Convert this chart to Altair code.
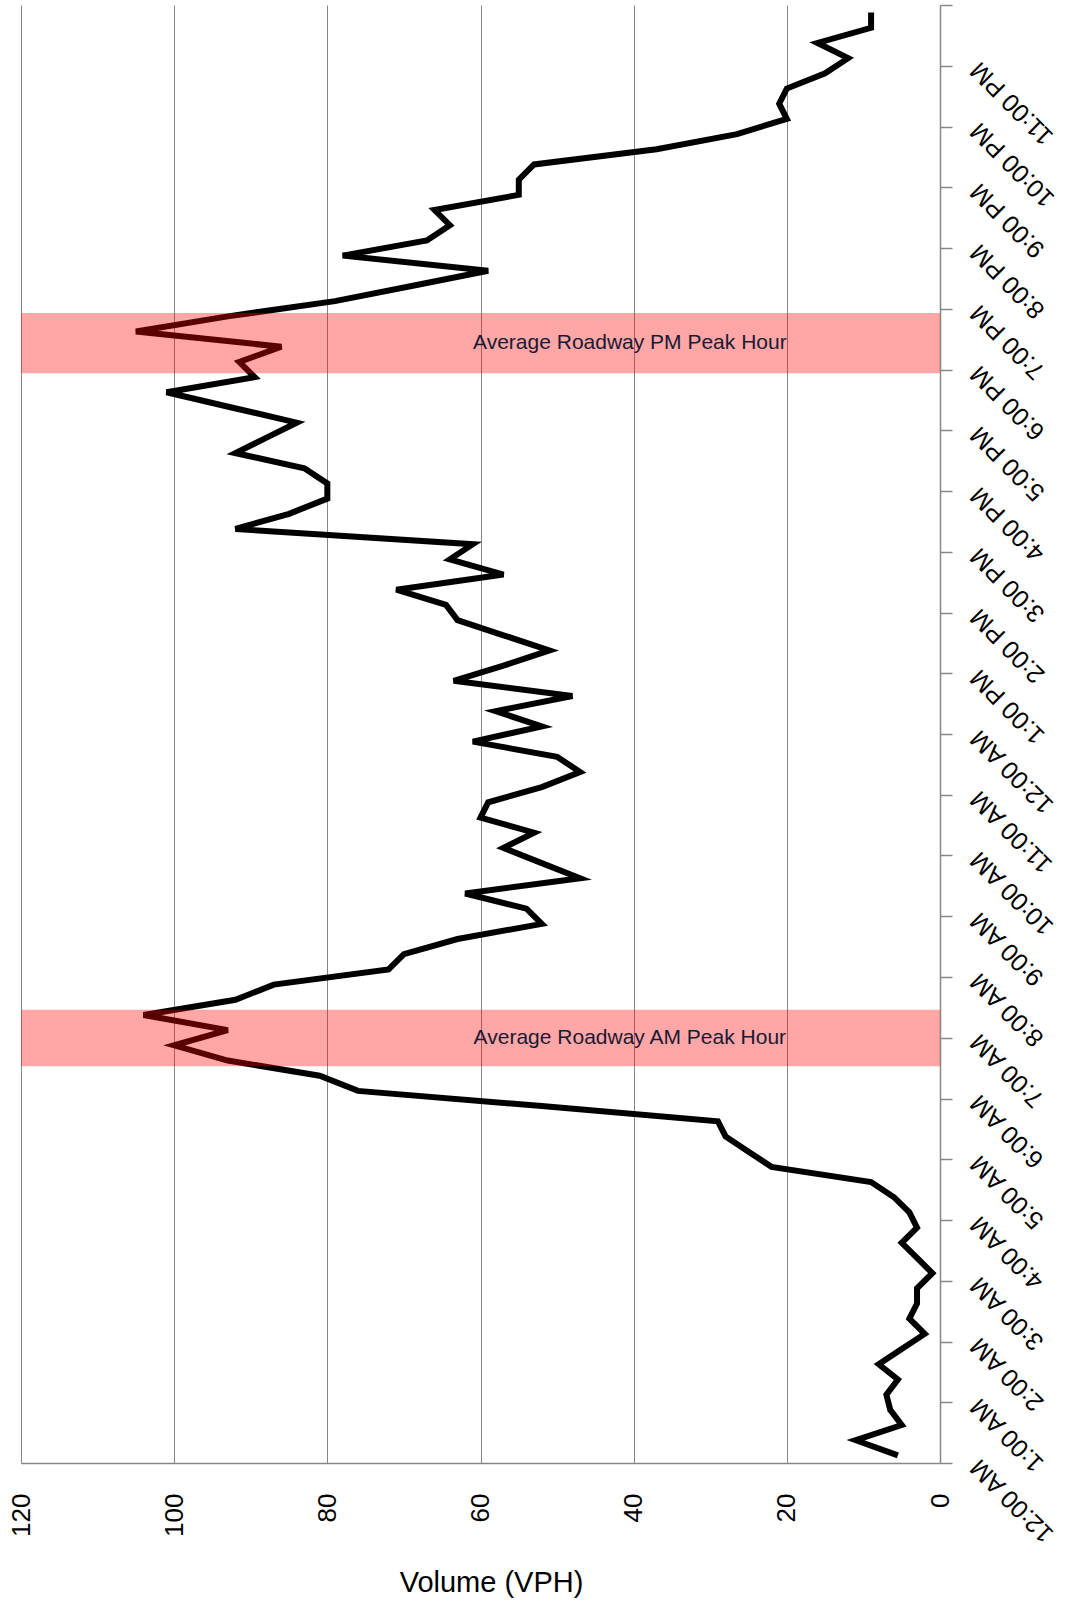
import json
import altair as alt
import pandas as pd

# Average weekday volume (vehicles per hour) for each 15-minute interval, 12:00 AM to 11:45 PM
volume = [
    5.5, 11, 5, 6.5, 7, 5.5, 8, 5,          # 12:00 AM - 1:45 AM
    2, 4, 3, 3, 1, 3, 5, 3,                 # 2:00 AM - 3:45 AM
    4, 6, 9, 22, 25, 28, 29, 52,            # 4:00 AM - 5:45 AM
    76, 81, 93, 100, 93, 104, 92, 87,       # 6:00 AM - 7:45 AM
    72, 70, 63, 52, 54, 62, 47, 52,         # 8:00 AM - 9:45 AM
    57, 53, 60, 59, 52, 47, 50, 61,         # 10:00 AM - 11:45 AM
    52, 58, 48, 63.5, 57, 51, 57, 63,       # 12:00 PM - 1:45 PM
    64.5, 71, 57, 64, 61, 92, 85, 80,       # 2:00 PM - 3:45 PM
    80, 83, 92, 88, 84, 92.5, 101, 89.5,    # 4:00 PM - 5:45 PM
    91.5, 86, 105, 93, 79, 69, 59, 78,      # 6:00 PM - 7:45 PM
    67, 64, 66, 55, 55, 53, 37, 26.5,       # 8:00 PM - 9:45 PM
    20, 21, 20, 15, 12, 16, 9, 9,           # 10:00 PM - 11:45 PM
]

# Hour labels along the time axis
hour_labels = [
    "12:00 AM", "1:00 AM", "2:00 AM", "3:00 AM", "4:00 AM", "5:00 AM",
    "6:00 AM", "7:00 AM", "8:00 AM", "9:00 AM", "10:00 AM", "11:00 AM",
    "12:00 AM", "1:00 PM", "2:00 PM", "3:00 PM", "4:00 PM", "5:00 PM",
    "6:00 PM", "7:00 PM", "8:00 PM", "9:00 PM", "10:00 PM", "11:00 PM",
]

# Peak-hour bands (hours of day)
band_names = ["Average Roadway AM Peak Hour", "Average Roadway PM Peak Hour"]
band_start = [6.53, 17.94]
band_end = [7.46, 18.93]

volume_ticks = [0, 20, 40, 60, 80, 100, 120]

# Each 15-minute value sits in the middle of its interval
counts = pd.DataFrame({
    "hour": [(i + 0.5) / 4 for i in range(len(volume))],
    "volume": volume,
})
bands = pd.DataFrame({"label": band_names, "start": band_start, "end": band_end})
bands["mid"] = (bands["start"] + bands["end"]) / 2

GRAY = "#878787"
FONT = "Liberation Sans"

label_expr = "(" + json.dumps(hour_labels + [""]) + ")[datum.value]"

x_scale = alt.Scale(domain=[0, 120], reverse=True, nice=False)
y_scale = alt.Scale(domain=[0, 24], nice=False, zero=False)

x_axis = alt.Axis(
    values=volume_ticks, grid=True, gridColor=GRAY, gridWidth=1,
    ticks=False, domain=True, domainColor=GRAY, domainWidth=1.5,
    labelAngle=270, labelAlign="right", labelBaseline="middle",
    labelPadding=30, labelFont=FONT, labelFontSize=26, labelColor="black",
    labelOverlap=False, labelFlush=False,
    title="Volume (VPH)", titleFont=FONT, titleFontSize=29,
    titleFontWeight="normal", titleColor="black",
    titleX=470, titleY=128, titleAlign="center", titleBaseline="alphabetic",
)
y_axis = alt.Axis(
    orient="right", values=list(range(25)), grid=False,
    ticks=True, tickSize=12, tickColor=GRAY, tickWidth=1.5,
    domain=True, domainColor=GRAY, domainWidth=1.5,
    labelExpr=label_expr, labelAngle=225, labelAlign="right",
    labelBaseline="middle", labelPadding=22, labelFont=FONT,
    labelFontSize=25, labelColor="black", labelOverlap=False,
    labelFlush=False, labelBound=False, title=None,
)

line = alt.Chart(counts).mark_line(
    color="black", strokeWidth=6, strokeJoin="miter", strokeMiterLimit=4
).encode(
    x=alt.X("volume:Q", scale=x_scale, axis=x_axis),
    y=alt.Y("hour:Q", scale=y_scale, axis=y_axis),
    order=alt.Order("hour:Q"),
)

band_rects = alt.Chart(bands).mark_rect(color="red", opacity=0.35).encode(
    y=alt.Y("start:Q", scale=y_scale, axis=y_axis),
    y2="end:Q",
)

band_text = alt.Chart(bands).mark_text(
    font=FONT, fontSize=21, color="#1a1a33", align="center", baseline="middle"
).encode(
    x=alt.datum(40.5, scale=x_scale, axis=x_axis),
    y=alt.Y("mid:Q", scale=y_scale, axis=y_axis),
    text="label:N",
)

chart = alt.layer(line, band_rects, band_text).properties(
    width=919,
    height=1458,
    padding={"left": 21, "top": 5, "right": 125, "bottom": 141},
    autosize=alt.AutoSizeParams(type="none"),
    background="white",
).configure_view(stroke=None)

chart.save("out.html", embed_options={"renderer": "svg", "actions": False})
